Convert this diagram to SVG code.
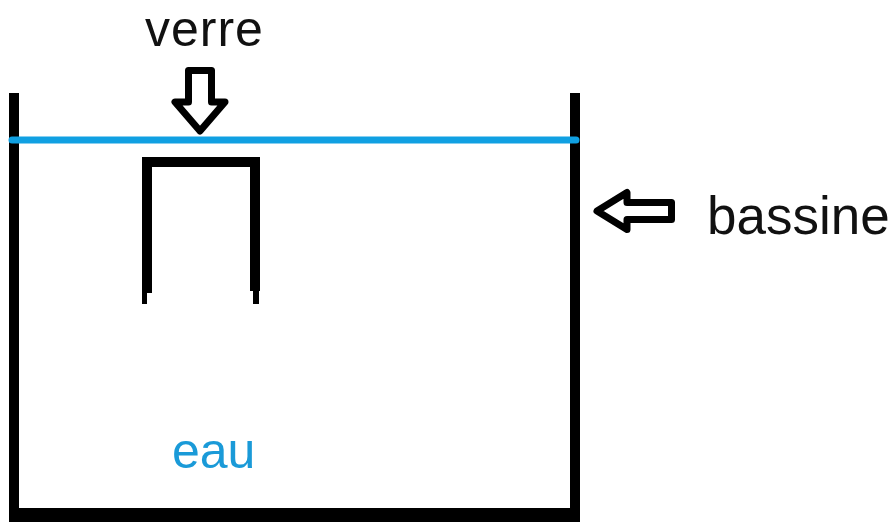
<svg xmlns="http://www.w3.org/2000/svg" width="893" height="522" viewBox="0 0 893 522">
<style>
.lbl{font-family:"Liberation Sans",Arial,sans-serif;fill:#111}
.wall{fill:#000}
.arrow{fill:#fff;stroke:#000;stroke-width:7;stroke-linejoin:round}
</style>
<rect width="893" height="522" fill="#fff"/>
<g id="bassine">
<rect class="wall" x="9" y="93" width="10" height="429"/>
<rect class="wall" x="570" y="93" width="10" height="429"/>
<rect class="wall" x="9" y="508" width="571" height="14"/>
</g>
<g id="verre">
<path d="M147,293 V162 H255 V291" fill="none" stroke="#000" stroke-width="10"/>
<rect class="wall" x="142" y="288" width="5" height="16"/>
<rect class="wall" x="253" y="286" width="6" height="18"/>
</g>
<g id="surface">
<line x1="12" y1="140" x2="576" y2="140" stroke="#10a0e2" stroke-width="7" stroke-linecap="round"/>
</g>
<g id="eau">
<text x="172" y="468" font-size="50" class="lbl" style="fill:#1a9ad8">eau</text>
</g>
<g id="label-verre">
<text x="145" y="46" font-size="50" letter-spacing="1" class="lbl">verre</text>
</g>
<g id="label-bassine">
<text x="707" y="234" font-size="53" class="lbl">bassine</text>
</g>
<g id="connectors">
<path class="arrow" d="M188.5,70.5 H211.5 V102 H225 L200,131 L175,102 H188.5 Z"/>
<path class="arrow" d="M671.5,202.5 V219.5 H627 V229.5 L597,211 L627,192.5 V202.5 Z"/>
</g>
</svg>
